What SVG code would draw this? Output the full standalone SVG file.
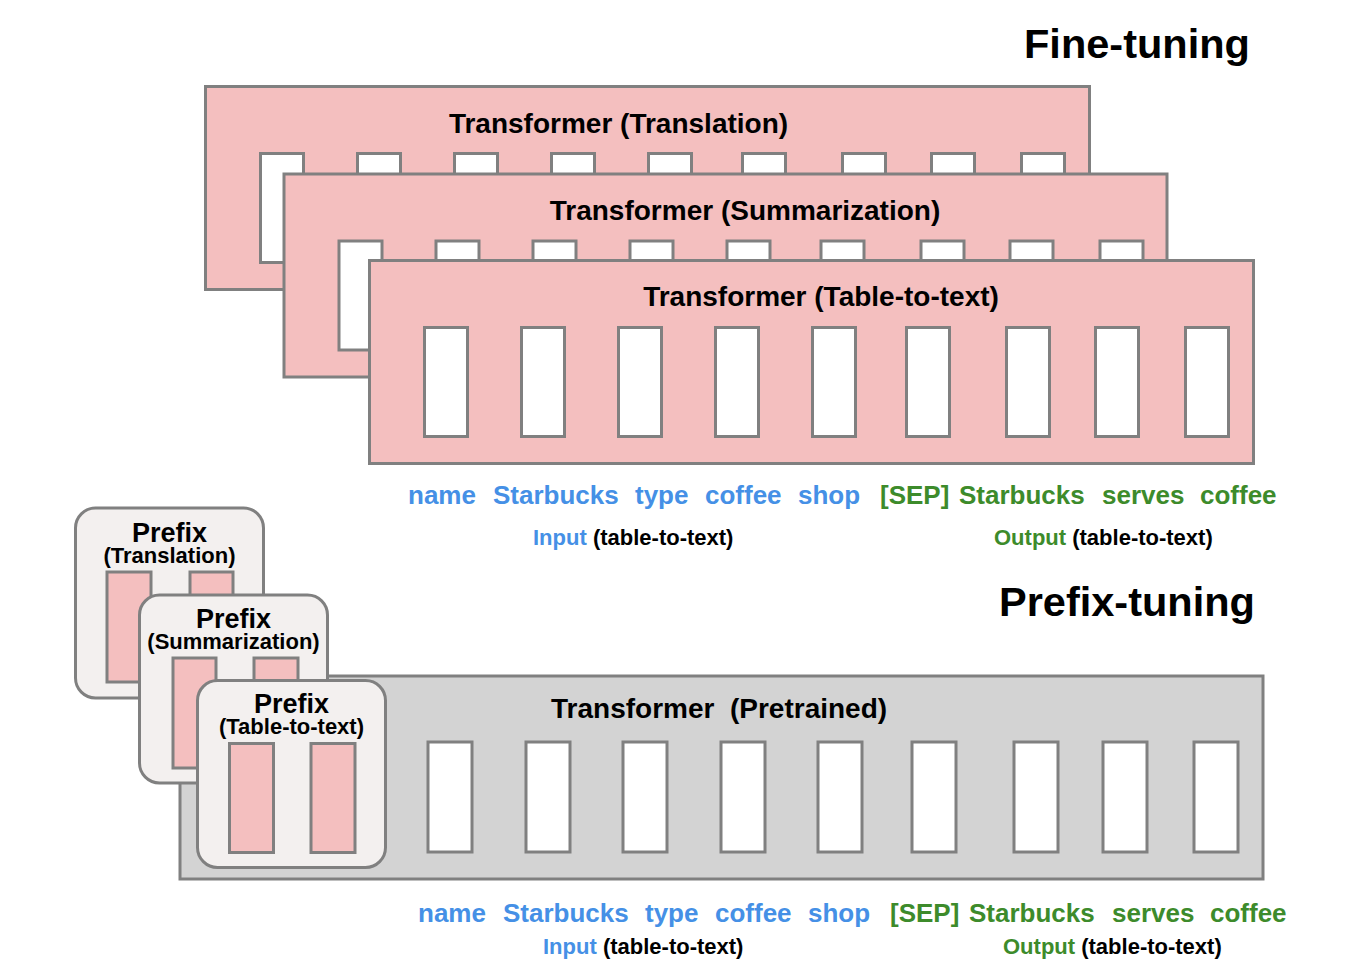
<svg xmlns="http://www.w3.org/2000/svg" xmlns:xlink="http://www.w3.org/1999/xlink" width="1372" height="969" viewBox="0 0 1372 969">
<style>
  text { font-family: "Liberation Sans", Arial, Helvetica, sans-serif; font-weight: bold; }
  .frame { stroke: #808080; stroke-width: 3; }
  .pink { fill: #f4bfbf; }
  .gray { fill: #d3d3d3; }
  .pre { fill: #f3f0ef; }
  .cell { fill: #ffffff; stroke: #808080; stroke-width: 3; }
  .pcell { fill: #f4bfbf; stroke: #808080; stroke-width: 3; }
  .title { font-size: 28px; fill: #000; }
  .big { font-size: 41.5px; fill: #000; }
  .word { font-size: 26px; }
  .blue { fill: #4590e6; }
  .green { fill: #3d8b2b; }
  .lab { font-size: 22px; fill: #000; }
  .ph { font-size: 27px; fill: #000; text-anchor: middle; }
  .ps { font-size: 22px; fill: #000; text-anchor: middle; }
</style>
<defs>
  <g id="cells">
    <rect class="cell" x="55" y="67" width="43" height="109"/>
    <rect class="cell" x="152" y="67" width="43" height="109"/>
    <rect class="cell" x="249" y="67" width="43" height="109"/>
    <rect class="cell" x="346" y="67" width="43" height="109"/>
    <rect class="cell" x="443" y="67" width="43" height="109"/>
    <rect class="cell" x="537" y="67" width="43" height="109"/>
    <rect class="cell" x="637" y="67" width="43" height="109"/>
    <rect class="cell" x="726" y="67" width="43" height="109"/>
    <rect class="cell" x="816" y="67" width="43" height="109"/>
  </g>
</defs>
<rect width="1372" height="969" fill="#ffffff"/>

<text class="big" x="1024" y="58">Fine-tuning</text>

<g id="transformer-translation">
  <rect class="frame pink" x="205.5" y="86.5" width="884" height="203"/>
  <use xlink:href="#cells" href="#cells" transform="translate(205.5,86.5)"/>
  <text class="title" x="618.5" y="133" text-anchor="middle">Transformer (Translation)</text>
</g>

<g id="transformer-summarization">
  <rect class="frame pink" x="284" y="174" width="883" height="203"/>
  <use xlink:href="#cells" href="#cells" transform="translate(284,174)"/>
  <text class="title" x="745" y="220" text-anchor="middle">Transformer (Summarization)</text>
</g>

<g id="transformer-table">
  <rect class="frame pink" x="369.5" y="260.5" width="884" height="203"/>
  <use xlink:href="#cells" href="#cells" transform="translate(369.5,260.5)"/>
  <text class="title" x="821" y="306" text-anchor="middle">Transformer (Table-to-text)</text>
</g>

<g id="finetune-input">
  <text class="word blue" x="408" y="503.5">name</text>
  <text class="word blue" x="493" y="503.5">Starbucks</text>
  <text class="word blue" x="635" y="503.5">type</text>
  <text class="word blue" x="705" y="503.5">coffee</text>
  <text class="word blue" x="798" y="503.5">shop</text>
  <text class="lab" x="533" y="545"><tspan class="blue">Input</tspan> (table-to-text)</text>
</g>
<g id="finetune-output">
  <text class="word green" x="880" y="503.5">[SEP]</text>
  <text class="word green" x="959" y="503.5">Starbucks</text>
  <text class="word green" x="1102" y="503.5">serves</text>
  <text class="word green" x="1200" y="503.5">coffee</text>
  <text class="lab" x="994" y="545"><tspan class="green">Output</tspan> (table-to-text)</text>
</g>

<text class="big" x="999" y="616">Prefix-tuning</text>

<g id="transformer-pretrained">
  <rect class="frame gray" x="180" y="676" width="1083" height="203"/>
  <rect class="cell" x="428" y="742" width="44" height="110"/>
  <rect class="cell" x="526" y="742" width="44" height="110"/>
  <rect class="cell" x="623" y="742" width="44" height="110"/>
  <rect class="cell" x="721" y="742" width="44" height="110"/>
  <rect class="cell" x="818" y="742" width="44" height="110"/>
  <rect class="cell" x="912" y="742" width="44" height="110"/>
  <rect class="cell" x="1014" y="742" width="44" height="110"/>
  <rect class="cell" x="1103" y="742" width="44" height="110"/>
  <rect class="cell" x="1194" y="742" width="44" height="110"/>
  <text class="title" x="551" y="718" xml:space="preserve">Transformer  (Pretrained)</text>
</g>

<g id="prefix-translation">
  <rect class="frame pre" x="75.5" y="508" width="188" height="190" rx="20"/>
  <rect class="pcell" x="107" y="572" width="44" height="110"/>
  <rect class="pcell" x="190" y="572" width="43" height="110"/>
  <text class="ph" x="169.5" y="542">Prefix</text>
  <text class="ps" x="169.5" y="563">(Translation)</text>
</g>

<g id="prefix-summarization">
  <rect class="frame pre" x="139.5" y="595" width="188" height="188" rx="20"/>
  <rect class="pcell" x="173" y="658" width="43" height="110"/>
  <rect class="pcell" x="254" y="658" width="44" height="110"/>
  <text class="ph" x="233.5" y="628">Prefix</text>
  <text class="ps" x="233.5" y="649">(Summarization)</text>
</g>

<g id="prefix-table">
  <rect class="frame pre" x="197.5" y="680.5" width="188" height="187" rx="20"/>
  <rect class="pcell" x="229.5" y="743.5" width="44" height="109"/>
  <rect class="pcell" x="311" y="743.5" width="44" height="109"/>
  <text class="ph" x="291.5" y="713">Prefix</text>
  <text class="ps" x="291.5" y="734">(Table-to-text)</text>
</g>

<g id="prefix-input">
  <text class="word blue" x="418" y="922">name</text>
  <text class="word blue" x="503" y="922">Starbucks</text>
  <text class="word blue" x="645" y="922">type</text>
  <text class="word blue" x="715" y="922">coffee</text>
  <text class="word blue" x="808" y="922">shop</text>
  <text class="lab" x="543" y="954"><tspan class="blue">Input</tspan> (table-to-text)</text>
</g>
<g id="prefix-output">
  <text class="word green" x="890" y="922">[SEP]</text>
  <text class="word green" x="969" y="922">Starbucks</text>
  <text class="word green" x="1112" y="922">serves</text>
  <text class="word green" x="1210" y="922">coffee</text>
  <text class="lab" x="1003" y="954"><tspan class="green">Output</tspan> (table-to-text)</text>
</g>

<g id="connectors"></g>
</svg>
